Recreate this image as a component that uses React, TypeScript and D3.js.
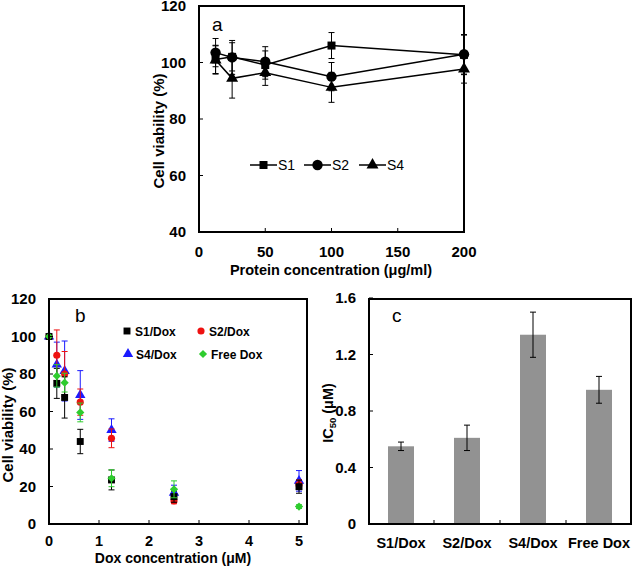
import React from 'react';
import * as d3 from 'd3';

// ---- panel a: protein only ----
const proteinConc = [12.5, 25, 50, 100, 200];
const aSeries = [
  { name: 'S1', shape: 'square', values: [101.1, 102, 99.1, 106, 102.7], errors: [5, 5, 5, 4.6, 7] },
  { name: 'S2', shape: 'circle', values: [103.5, 101.8, 100.3, 95, 102.9], errors: [5, 6, 5.3, 5, 7] },
  { name: 'S4', shape: 'triangle', values: [100.9, 94.4, 96.4, 91.2, 97.7], errors: [5, 7, 4.5, 5.3, 5] },
];
const aXTicks = [0, 50, 100, 150, 200];
const aYTicks = [40, 60, 80, 100, 120];

// ---- panel b: dox loaded ----
const doxConc = [0, 0.156, 0.3125, 0.625, 1.25, 2.5, 5];
const bSeries = [
  { name: 'S4/Dox', shape: 'triangle', color: '#1a1aff', values: [100, 85, 81.6, 68.8, 50.1, 16.7, 23], errors: [0, 12, 16, 13, 6, 4, 5.5] },
  { name: 'S2/Dox', shape: 'circle', color: '#ee1111', values: [100, 90, 80, 65, 45.7, 12.3, 21], errors: [0, 13.5, 12, 7, 5, 1.5, 2.5] },
  { name: 'S1/Dox', shape: 'square', color: '#000000', values: [100, 75, 67.5, 44, 23.5, 14.6, 19.9], errors: [0, 8, 11, 6.5, 5.3, 3, 3.5] },
  { name: 'Free Dox', shape: 'diamond', color: '#2ecc2e', values: [100, 79, 75.4, 59.5, 24.4, 18.5, 9.3], errors: [0, 6, 5, 5, 4.5, 4.5, 1] },
];
const bLegendOrder = ['S1/Dox', 'S2/Dox', 'S4/Dox', 'Free Dox'];
const bXTicks = [0, 1, 2, 3, 4, 5];
const bYTicks = [0, 20, 40, 60, 80, 100, 120];

// ---- panel c: IC50 ----
const cCategories = ['S1/Dox', 'S2/Dox', 'S4/Dox', 'Free Dox'];
const cValues = [0.55, 0.61, 1.34, 0.95];
const cErrors = [0.03, 0.09, 0.16, 0.095];
const cYTicks = [0, 0.4, 0.8, 1.2, 1.6];

const FONT = '"Liberation Sans", Arial, sans-serif';

function markerPath(shape: string, big: boolean) {
  const s = big ? 1 : 0.75;
  if (shape === 'square') return d3.symbol(d3.symbolSquare, 64 * s)();
  if (shape === 'circle') return d3.symbol(d3.symbolCircle, big ? 85 : 40)();
  if (shape === 'triangle') return d3.symbol(d3.symbolTriangle, 62 * s)();
  return d3.symbol(d3.symbolSquare, 34)();
}

function Marker({ shape, x, y, color = '#000', big = true }: any) {
  const rot = shape === 'diamond' ? ' rotate(45)' : '';
  return <path d={markerPath(shape, big) || ''} transform={`translate(${x},${y})${rot}`} fill={color} />;
}

function ErrBar({ x, y0, y1, color = '#000', cap = 3 }: any) {
  return (
    <g stroke={color} strokeWidth={1}>
      <line x1={x} x2={x} y1={y0} y2={y1} />
      <line x1={x - cap} x2={x + cap} y1={y0} y2={y0} />
      <line x1={x - cap} x2={x + cap} y1={y1} y2={y1} />
    </g>
  );
}

function Frame({ x0, x1, y0, y1 }: any) {
  return <rect x={x0} y={y0} width={x1 - x0} height={y1 - y0} fill="none" stroke="#000" strokeWidth={2} />;
}

function PanelA() {
  const x = d3.scaleLinear([0, 200], [199, 464]);
  const y = d3.scaleLinear([40, 120], [232, 6]);
  const line = d3.line<number>().x((_, i) => x(proteinConc[i])).y((d) => y(d));
  const legendX = [250, 304, 359];
  return (
    <g>
      {aSeries.map((s) => (
        <g key={s.name}>
          <path d={line(s.values) || ''} fill="none" stroke="#000" strokeWidth={1.5} />
          {s.values.map((v, i) => (
            <ErrBar key={i} x={x(proteinConc[i])} y0={y(v - s.errors[i])} y1={y(v + s.errors[i])} />
          ))}
          {s.values.map((v, i) => (
            <Marker key={'m' + i} shape={s.shape} x={x(proteinConc[i])} y={y(v)} />
          ))}
        </g>
      ))}
      <Frame x0={199} x1={464} y0={6} y1={232} />
      {aXTicks.map((t) => (
        <g key={t}>
          <line x1={x(t)} x2={x(t)} y1={232} y2={228} stroke="#000" strokeWidth={1} />
          <text x={x(t)} y={257} textAnchor="middle" fontSize={15} fontWeight="bold">{t}</text>
        </g>
      ))}
      {aYTicks.map((t) => (
        <g key={t}>
          <line x1={199} x2={203} y1={y(t)} y2={y(t)} stroke="#000" strokeWidth={1} />
          <text x={186} y={Math.max(y(t) + 5, 11)} textAnchor="end" fontSize={15} fontWeight="bold">{t}</text>
        </g>
      ))}
      <text x={212} y={31} fontSize={19}>a</text>
      <text transform="translate(164,131) rotate(-90)" textAnchor="middle" fontSize={15} fontWeight="bold">Cell viability (%)</text>
      <text x={331} y={275} textAnchor="middle" fontSize={14.5} fontWeight="bold">Protein concentration (μg/ml)</text>
      {aSeries.map((s, i) => (
        <g key={s.name}>
          <line x1={legendX[i]} x2={legendX[i] + 27} y1={165} y2={165} stroke="#000" strokeWidth={1.5} />
          <Marker shape={s.shape} x={legendX[i] + 13.5} y={165} />
          <text x={legendX[i] + 28} y={170} fontSize={14}>{s.name}</text>
        </g>
      ))}
    </g>
  );
}

function PanelB() {
  const x = d3.scaleLinear([0, 5], [49, 299]);
  const y = d3.scaleLinear([0, 120], [524, 299]);
  const legendPos: Record<string, [number, number]> = {
    'S1/Dox': [127, 331],
    'S2/Dox': [201, 331],
    'S4/Dox': [128, 354],
    'Free Dox': [203, 354],
  };
  return (
    <g>
      {bSeries.map((s) => (
        <g key={s.name}>
          {s.values.map((v, i) =>
            s.errors[i] > 0 ? (
              <ErrBar key={i} x={x(doxConc[i])} y0={y(v - s.errors[i])} y1={y(v + s.errors[i])} color={s.color} />
            ) : null,
          )}
          {s.values.map((v, i) => (
            <Marker key={'m' + i} shape={s.shape} x={x(doxConc[i])} y={y(v)} color={s.color} big={false} />
          ))}
        </g>
      ))}
      <Frame x0={49} x1={307} y0={299} y1={524} />
      {bXTicks.map((t) => (
        <g key={t}>
          <line x1={x(t)} x2={x(t)} y1={524} y2={520} stroke="#000" strokeWidth={1} />
          <text x={x(t)} y={546} textAnchor="middle" fontSize={14.5} fontWeight="bold">{t}</text>
        </g>
      ))}
      {bYTicks.map((t) => (
        <g key={t}>
          <line x1={49} x2={53} y1={y(t)} y2={y(t)} stroke="#000" strokeWidth={1} />
          <text x={36} y={y(t) + 5} textAnchor="end" fontSize={15} fontWeight="bold">{t}</text>
        </g>
      ))}
      <text x={75} y={322} fontSize={19}>b</text>
      <text transform="translate(13,425) rotate(-90)" textAnchor="middle" fontSize={15} fontWeight="bold">Cell viability (%)</text>
      <text x={173} y={563} textAnchor="middle" fontSize={14} fontWeight="bold">Dox concentration (μM)</text>
      {bLegendOrder.map((name) => {
        const s = bSeries.find((d) => d.name === name)!;
        const [lx, ly] = legendPos[name];
        return (
          <g key={name}>
            <Marker shape={s.shape} x={lx} y={ly} color={s.color} big={false} />
            <text x={lx + 8} y={ly + 4.5} fontSize={12} fontWeight="bold">{name}</text>
          </g>
        );
      })}
    </g>
  );
}

function PanelC() {
  const x = d3.scaleBand(cCategories, [368, 632]).paddingInner(0.606).paddingOuter(0.303);
  const y = d3.scaleLinear([0, 1.6], [524, 298]);
  const bw = x.bandwidth();
  return (
    <g>
      {cCategories.map((c, i) => (
        <g key={c}>
          <rect x={x(c)} y={y(cValues[i])} width={bw} height={524 - y(cValues[i])} fill="#929292" />
          <ErrBar x={x(c)! + bw / 2} y0={y(cValues[i] - cErrors[i])} y1={y(cValues[i] + cErrors[i])} />
          <text x={x(c)! + bw / 2} y={548} textAnchor="middle" fontSize={14.5} fontWeight="bold">{c}</text>
        </g>
      ))}
      {cCategories.slice(1).map((c) => (
        <line key={c} x1={x(c)! - (x.step() - bw) / 2} x2={x(c)! - (x.step() - bw) / 2} y1={524} y2={520} stroke="#000" strokeWidth={1} />
      ))}
      <Frame x0={369} x1={631} y0={299} y1={524} />
      {cYTicks.map((t) => (
        <g key={t}>
          <line x1={369} x2={373} y1={y(t)} y2={y(t)} stroke="#000" strokeWidth={1} />
          <text x={356} y={y(t) + 5} textAnchor="end" fontSize={15} fontWeight="bold">{t}</text>
        </g>
      ))}
      <text x={392} y={322} fontSize={19}>c</text>
      <text transform="translate(333,413) rotate(-90)" textAnchor="middle" fontSize={14.5} fontWeight="bold">
        IC<tspan fontSize={9.5} dy={3}>50</tspan><tspan dy={-3}> (μM)</tspan>
      </text>
    </g>
  );
}

export default function App() {
  return (
    <svg width={633} height={566} style={{ position: 'absolute', left: 0, top: 0, background: '#fff' }} fontFamily={FONT}>
      <PanelA />
      <PanelB />
      <PanelC />
    </svg>
  );
}
